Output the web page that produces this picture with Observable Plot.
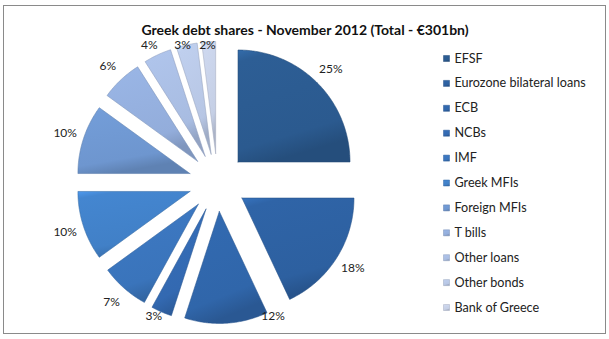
<!DOCTYPE html>
<html><head><meta charset="utf-8">
<script src="https://cdn.jsdelivr.net/npm/d3@7"></script>
<script src="https://cdn.jsdelivr.net/npm/@observablehq/plot@0.6"></script>
<style>body{margin:0;background:#fff}#chart{width:609px;height:339px}</style>
</head><body><div id="chart"></div>
<script>
const title = "Greek debt shares - November 2012 (Total - €301bn)";
const categories = ["EFSF","Eurozone bilateral loans","ECB","NCBs","IMF","Greek MFIs","Foreign MFIs","T bills","Other loans","Other bonds","Bank of Greece"];
const shares = [25,18,12,3,7,10,10,6,4,3,2];
const colors = ["#2b5a8f","#2d60a0","#3066aa","#3369b1","#3a74bb","#4180c7","#6e96cf","#93addb","#a8bce1","#b7c6e4","#c5cfe5"];

const W = 609, H = 339, R = 112, CX = 217, CY = 182;
const EXPLODE = 29 / R, LABEL_R = 1.43;
const pxX = px => (px - CX) / R, pxY = py => (CY - py) / R;

const arcs = d3.pie().sort(null).value(d => d.value)(
  categories.map((name, i) => ({name, value: shares[i], color: colors[i], i})));

const slices = arcs.map(a => {
  const m = (a.startAngle + a.endAngle) / 2;
  const ox = EXPLODE * Math.sin(m), oy = EXPLODE * Math.cos(m);
  const pts = [{x: ox, y: oy}];
  const n = Math.max(4, Math.ceil((a.endAngle - a.startAngle) / 0.01));
  for (let k = 0; k <= n; k++) {
    const t = a.startAngle + (a.endAngle - a.startAngle) * k / n;
    pts.push({x: ox + Math.sin(t), y: oy + Math.cos(t)});
  }
  pts.push({x: ox, y: oy});
  return {...a.data, pts, m, ox, oy};
});

// labels sit outside each slice; those pushed up to the bottom edge slide sideways clear of their slice
const labels = slices.map(s => {
  let x = LABEL_R * Math.sin(s.m);
  let y = LABEL_R * Math.cos(s.m);
  const yMin = pxY(316), yMax = pxY(45);
  if (y < yMin) {
    y = yMin;
    const clear = 1 + 6 / R, dy = y - s.oy;
    if (Math.hypot(x - s.ox, dy) < clear) x = s.ox + Math.sign(Math.sin(s.m)) * Math.sqrt(clear * clear - dy * dy);
  }
  y = Math.min(yMax, y);
  return {x, y, text: s.value + "%"};
});

const legend = categories.map((name, i) => ({name, i, x: pxX(446), y: pxY(58 + i * 24.9)}));

const defs = () => {
  const ns = "http://www.w3.org/2000/svg";
  const d = document.createElementNS(ns, "defs");
  colors.forEach((c, i) => {
    const g = document.createElementNS(ns, "linearGradient");
    g.setAttribute("id", "g" + i);
    g.setAttribute("x1", 0); g.setAttribute("y1", 0);
    g.setAttribute("x2", 0.3); g.setAttribute("y2", 1);
    [[0, d3.color(c).brighter(0.5)], [0.1, d3.color(c).brighter(0.12)], [0.82, c], [1, d3.color(c).darker(0.4)]]
      .forEach(([o, col]) => {
        const s = document.createElementNS(ns, "stop");
        s.setAttribute("offset", o);
        s.setAttribute("stop-color", col.toString());
        g.appendChild(s);
      });
    d.appendChild(g);
  });
  return d;
};

const chart = Plot.plot({
  width: W, height: H, margin: 0,
  x: {domain: [pxX(0), pxX(W)], axis: null},
  y: {domain: [pxY(H), pxY(0)], axis: null},
  style: {fontFamily: "Lato, sans-serif", background: "#fff"},
  marks: [
    defs,
    Plot.frame({stroke: "#8a8a8a", insetLeft: 3, insetTop: 5, insetRight: 4, insetBottom: 6}),
    ...slices.map(s => Plot.line(s.pts, {x: "x", y: "y", fill: `url(#g${s.i})`,
      stroke: d3.color(s.color).darker(0.5).toString(), strokeWidth: 0.7, strokeOpacity: 0.8, curve: "linear"})),
    Plot.text(labels, {x: "x", y: "y", text: "text", fontSize: 12, fill: "#222"}),
    ...legend.map(l => Plot.dot([l], {x: "x", y: "y", symbol: "square", r: 3.4,
      fill: `url(#g${l.i})`, stroke: d3.color(colors[l.i]).darker(0.5).toString(), strokeWidth: 0.5})),
    Plot.text(legend, {x: "x", y: "y", text: "name", textAnchor: "start", dx: 8, fontSize: 12.6, fill: "#222"}),
    Plot.text([title], {frameAnchor: "top", dy: 25, fontSize: 14, fontWeight: "bold", fill: "#111"})
  ]
});
document.getElementById("chart").appendChild(chart);
</script>
</body></html>
